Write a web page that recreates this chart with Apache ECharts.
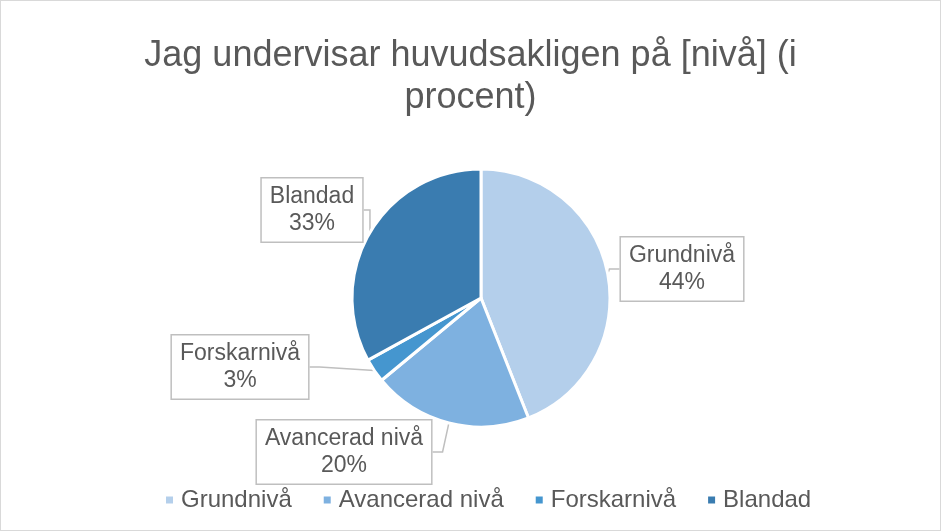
<!DOCTYPE html>
<html><head><meta charset="utf-8">
<script src="https://cdn.jsdelivr.net/npm/echarts@6/dist/echarts.min.js"></script>
<style>html,body{margin:0;padding:0;background:#fff}#c{width:941px;height:531px;box-sizing:border-box;border:1px solid #d9d9d9}</style>
</head><body><div id="c"></div>
<script>
const titleText = 'Jag undervisar huvudsakligen på [nivå] (i\nprocent)';
const categories = ['Grundnivå', 'Avancerad nivå', 'Forskarnivå', 'Blandad'];
const values = [44, 20, 3, 33];
const colors = ['#B4CFEB', '#7EB1E0', '#4596CF', '#3A7CB0'];

const labelPos = [[681, 268], [343, 451], [239, 366], [311, 209]];
const FONT = 'Liberation Sans, Arial, sans-serif';

const chart = echarts.init(document.getElementById('c'), null, {renderer: 'canvas'});
chart.setOption({
  animation: false,
  textStyle: {fontFamily: FONT},
  title: {
    text: titleText, left: 'center', top: 29,
    textStyle: {fontSize: 36, fontWeight: 'normal', color: '#595959', lineHeight: 42, fontFamily: FONT}
  },
  legend: {
    top: 482, left: 158, icon: 'rect', itemWidth: 9, itemHeight: 9, itemGap: 30,
    textStyle: {fontSize: 24, color: '#595959', fontFamily: FONT, padding: [0, 0, 0, 2]},
    data: categories
  },
  series: [{
    type: 'pie', radius: 129, center: [480, 297], startAngle: 90, clockwise: true,
    itemStyle: {borderColor: '#fff', borderWidth: 3},
    data: categories.map((c, i) => ({name: c, value: values[i], itemStyle: {color: colors[i]}})),
    label: {
      show: true, formatter: '{b}\n{d}%', fontSize: 23, lineHeight: 27, color: '#595959',
      backgroundColor: '#fff', borderColor: '#bfbfbf', borderWidth: 1.5,
      padding: [5, 8, 4, 8], align: 'center', fontFamily: FONT
    },
    labelLine: {show: true, lineStyle: {color: '#bfbfbf', width: 1.5}, length: 10, length2: 10},
    labelLayout: function (p) {
      const pos = labelPos[p.dataIndex];
      return {x: pos[0], y: pos[1], align: 'center', verticalAlign: 'middle'};
    }
  }]
});
</script></body></html>
